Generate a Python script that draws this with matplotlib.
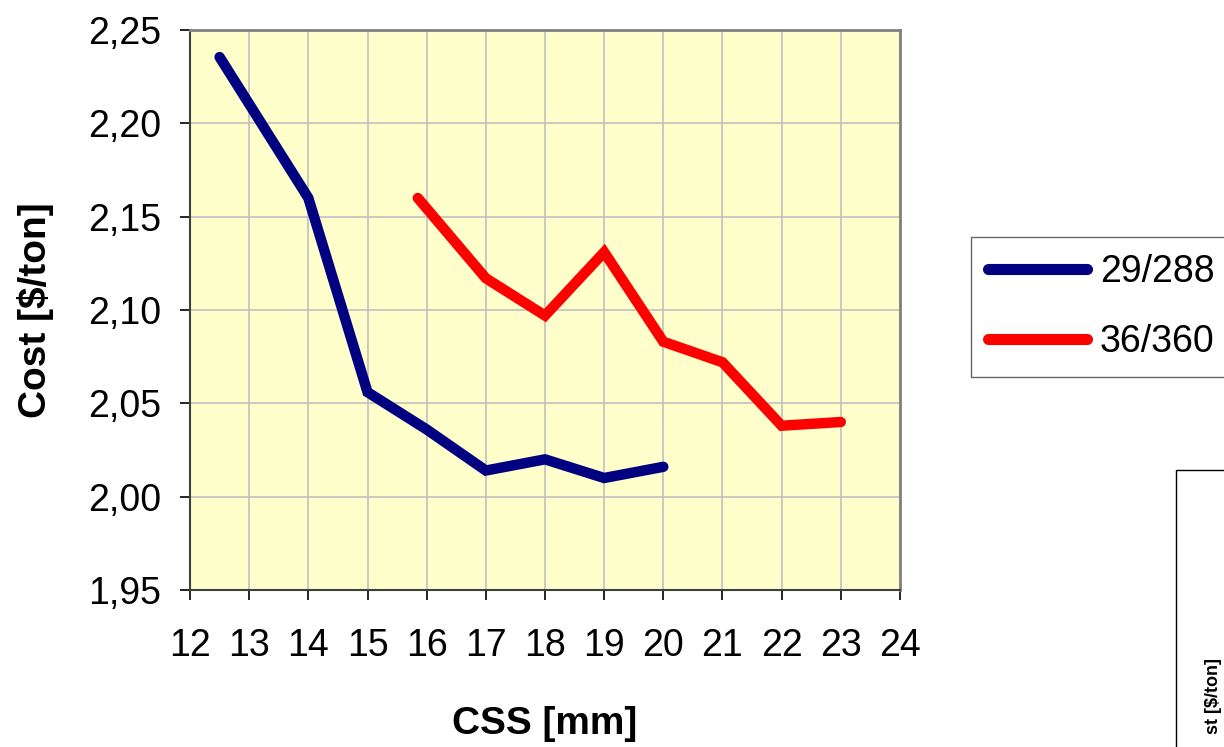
import matplotlib
matplotlib.use("Agg")
import matplotlib.pyplot as plt
from matplotlib.ticker import FuncFormatter, MultipleLocator
from matplotlib.patches import Rectangle

plt.rcParams['font.family'] = ['Liberation Sans', 'DejaVu Sans']

# CSS [mm] vs cost [$/ton]
css_a = [12.5, 14, 15, 16, 17, 18, 19, 20]
cost_a = [2.2355, 2.160, 2.056, 2.036, 2.014, 2.020, 2.010, 2.016]
css_b = [15.85, 17, 18, 19, 20, 21, 22, 23]
cost_b = [2.160, 2.117, 2.097, 2.131, 2.083, 2.072, 2.038, 2.040]
labels = ['29/288', '36/360']

W, H = 1224, 747
fig = plt.figure(figsize=(W / 100, H / 100), dpi=100)
ax = fig.add_axes([190 / W, 1 - 590 / H, 710 / W, 560 / H])
ax.set_facecolor('#FFFFCC')

ax.plot(css_a, cost_a, color='#000080', lw=7.5, solid_capstyle='round',
        solid_joinstyle='miter', label=labels[0])
ax.plot(css_b, cost_b, color='#FF0000', lw=7.5, solid_capstyle='round',
        solid_joinstyle='miter', label=labels[1])

ax.set_xlim(12, 24)
ax.set_ylim(1.95, 2.25)
ax.xaxis.set_major_locator(MultipleLocator(1))
ax.yaxis.set_major_locator(MultipleLocator(0.05))
ax.yaxis.set_major_formatter(FuncFormatter(lambda v, p: f"{v:.2f}".replace('.', ',')))
ax.grid(True, color='#C0C0C0', lw=1.2)
ax.set_axisbelow(True)
ax.tick_params(labelsize=27, length=7, width=1.2, direction='out')
ax.tick_params(axis='y', pad=14)
ax.tick_params(axis='x', pad=20)

for s in ['top', 'right']:
    ax.spines[s].set_color('#808080')
    ax.spines[s].set_linewidth(2)
for s in ['left', 'bottom']:
    ax.spines[s].set_color('#404040')
    ax.spines[s].set_linewidth(1.5)

ax.set_xlabel('CSS [mm]', fontsize=28, fontweight='bold', va='center')
ax.xaxis.set_label_coords(545 / W, 1 - 724 / H, transform=fig.transFigure)
ax.set_ylabel('Cost [$/ton]', fontsize=28, fontweight='bold', va='center')
ax.yaxis.set_label_coords(36 / W, 1 - 310 / H, transform=fig.transFigure)

leg = fig.legend(loc='upper left', bbox_to_anchor=(971 / W, 1 - 237 / H),
                 fontsize=27, frameon=True, fancybox=False, edgecolor='#404040',
                 handlelength=2.64, handletextpad=0.35, borderpad=0.45,
                 labelspacing=0.92, borderaxespad=0)
leg.get_frame().set_linewidth(1)
for ln in leg.get_lines():
    ln.set_linewidth(8)

# edge of the neighbouring chart, cut off at the right
fig.patches.append(Rectangle((1176 / W, -0.05), 0.2, 1 - 470 / H + 0.05,
                             transform=fig.transFigure, fill=False,
                             edgecolor='black', lw=1))
fig.text(1213 / W, 1 - 658 / H, 'st [$/ton]', rotation=90, fontsize=13,
         fontweight='bold', ha='center', va='top')

fig.savefig('out.png', dpi=100)
